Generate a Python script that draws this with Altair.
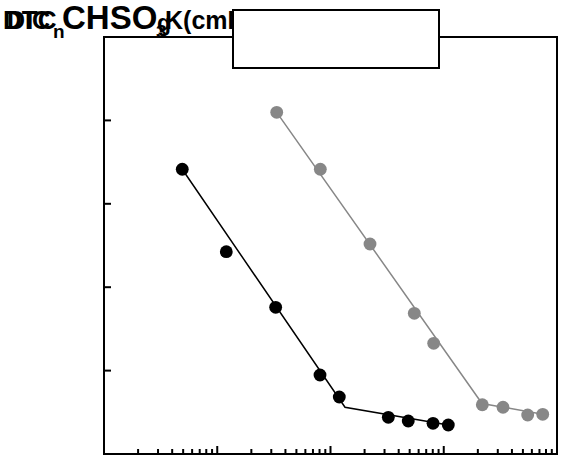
import altair as alt
import pandas as pd

# ---- data ----
black_x = [0.00491, 0.01202, 0.0328, 0.0808, 0.1196, 0.324, 0.486, 0.804, 1.097]
black_y = [54.14, 44.26, 37.59, 29.47, 26.83, 24.40, 23.96, 23.68, 23.48]
gray_x = [0.0335, 0.0813, 0.2233, 0.5495, 0.815, 2.19, 3.337, 5.51, 7.48]
gray_y = [60.97, 54.14, 45.18, 36.87, 33.27, 25.91, 25.60, 24.68, 24.76]
black_fit_x = [0.00491, 0.1343, 1.097]
black_fit_y = [54.14, 25.60, 23.48]
gray_fit_x = [0.0335, 2.177, 7.48]
gray_fit_y = [60.97, 26.06, 24.76]
series_names = ["black", "gray"]
series_colors = ["#000000", "#878787"]
x_major_ticks = [0.01, 0.1, 1]
x_minor_ticks = [0.002, 0.003, 0.004, 0.005, 0.006, 0.007, 0.008, 0.009,
                 0.02, 0.03, 0.04, 0.05, 0.06, 0.07, 0.08, 0.09,
                 0.2, 0.3, 0.4, 0.5, 0.6, 0.7, 0.8, 0.9,
                 2, 3, 4, 5, 6, 7, 8, 9]
y_ticks = [30, 40, 50, 60]
title_pieces = ["DTC", "DIC", "n", "CHSO", "3", "g", "K(cmN"]

W, H = 453, 417

pts = pd.DataFrame({
    "x": black_x + gray_x,
    "y": black_y + gray_y,
    "s": [series_names[0]] * len(black_x) + [series_names[1]] * len(gray_x),
})
fits = pd.DataFrame({
    "x": black_fit_x + gray_fit_x,
    "y": black_fit_y + gray_fit_y,
    "s": [series_names[0]] * len(black_fit_x) + [series_names[1]] * len(gray_fit_x),
    "o": list(range(len(black_fit_x))) + list(range(len(gray_fit_x))),
})

xs = alt.Scale(type="log", domain=[0.001, 10])
ys = alt.Scale(domain=[20, 70])
cs = alt.Scale(domain=series_names, range=series_colors)

lines = alt.Chart(fits).mark_line(strokeWidth=1.5).encode(
    x=alt.X("x:Q", scale=xs, axis=None),
    y=alt.Y("y:Q", scale=ys, axis=None),
    color=alt.Color("s:N", scale=cs, legend=None),
    detail="s:N",
    order="o:Q",
)
points = alt.Chart(pts).mark_circle(size=165, opacity=1).encode(
    x=alt.X("x:Q", scale=xs, axis=None),
    y=alt.Y("y:Q", scale=ys, axis=None),
    color=alt.Color("s:N", scale=cs, legend=None),
)

major = alt.Chart(pd.DataFrame({"v": x_major_ticks})).mark_rule(color="black", strokeWidth=2).encode(
    x=alt.X("v:Q", scale=xs, axis=None), y=alt.value(H), y2=alt.value(H - 8))
minor = alt.Chart(pd.DataFrame({"v": x_minor_ticks})).mark_rule(color="black", strokeWidth=2).encode(
    x=alt.X("v:Q", scale=xs, axis=None), y=alt.value(H), y2=alt.value(H - 5))
yt = alt.Chart(pd.DataFrame({"v": y_ticks})).mark_rule(color="black", strokeWidth=2).encode(
    y=alt.Y("v:Q", scale=ys, axis=None), x=alt.value(0), x2=alt.value(7))

# title pieces: (x px, baseline px, font size) on the page, converted to plot coords
piece_layout = [(3, 29, 26), (7, 29, 25), (53, 38, 19), (62, 29, 33), (156, 38, 19), (157, 31, 23), (165, 29, 25)]
texts = []
for t, (px, py, fs) in zip(title_pieces, piece_layout):
    texts.append(
        alt.Chart(alt.Data(values=[{"t": t}])).mark_text(
            align="left", baseline="alphabetic", font="Liberation Sans",
            fontWeight="bold", fontSize=fs, color="black"
        ).encode(text="t:N", x=alt.value(px - 104), y=alt.value(py - 37))
    )

box = alt.Chart(alt.Data(values=[{}])).mark_rect(
    fill="white", stroke="black", strokeWidth=2
).encode(x=alt.value(129), x2=alt.value(335), y=alt.value(-27), y2=alt.value(31))

chart = alt.layer(lines, points, major, minor, yt, *texts, box).properties(
    width=W, height=H,
    autosize=alt.AutoSizeParams(type="none"),
    padding={"left": 104, "top": 37, "right": 5, "bottom": 5},
    background="white",
).configure_view(stroke="black", strokeWidth=2)

chart.save("out.html", embed_options={"renderer": "svg", "actions": False})
